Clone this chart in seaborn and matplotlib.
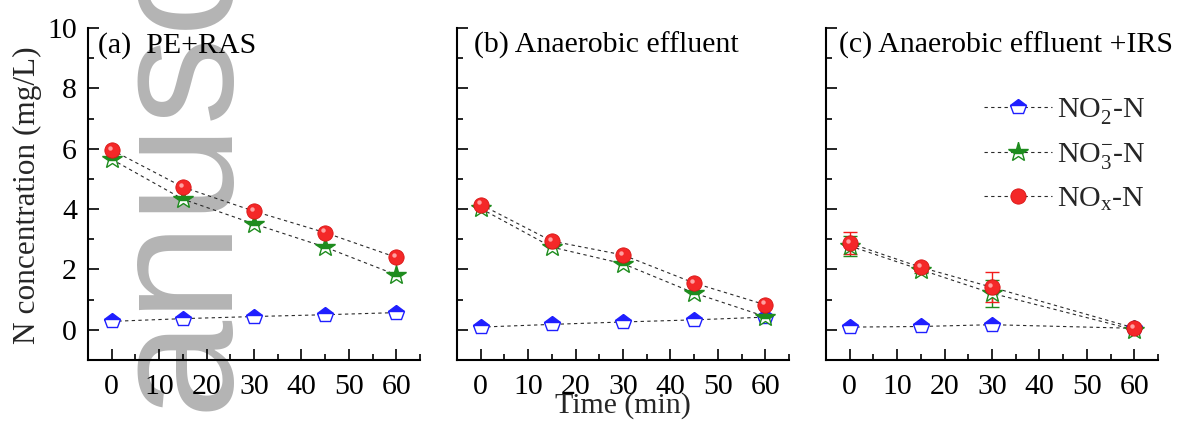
import numpy as np
import pandas as pd
import matplotlib
matplotlib.use("Agg")
import matplotlib.pyplot as plt
from matplotlib.ticker import MultipleLocator
from matplotlib.lines import Line2D
from matplotlib.transforms import ScaledTranslation
import seaborn as sns

# ---------------- data ----------------
time_ab = [0, 15, 30, 45, 60]
time_c = [0, 15, 30, 60]

a_no2 = [0.28, 0.37, 0.44, 0.50, 0.57]
a_no3 = [5.65, 4.33, 3.51, 2.74, 1.82]
a_nox = [5.96, 4.73, 3.93, 3.22, 2.40]

b_no2 = [0.09, 0.18, 0.26, 0.33, 0.42]
b_no3 = [4.02, 2.74, 2.19, 1.22, 0.44]
b_nox = [4.15, 2.94, 2.48, 1.55, 0.83]

c_no2 = [0.09, 0.11, 0.17, 0.05]
c_no3 = [2.78, 1.99, 1.21, 0.00]
c_nox = [2.87, 2.07, 1.41, 0.06]
c_no3_err = [0.33, 0.10, 0.45, 0.03]
c_nox_err = [0.36, 0.12, 0.50, 0.03]

panel_titles = ["(a)  PE+RAS", "(b) Anaerobic effluent", "(c) Anaerobic effluent +IRS"]
series_labels = [r"NO$_2^{-}$-N", r"NO$_3^{-}$-N", r"NO$_\mathrm{x}$-N"]
x_ticks = [0, 10, 20, 30, 40, 50, 60]
y_ticks = [0, 2, 4, 6, 8, 10]

# ---------------- style ----------------
sns.set_theme(style="ticks")
plt.rcParams["font.family"] = ["Liberation Serif", "DejaVu Serif"]
plt.rcParams["mathtext.fontset"] = "custom"
plt.rcParams["mathtext.rm"] = "Liberation Serif"
plt.rcParams["mathtext.it"] = "Liberation Serif:italic"
plt.rcParams["axes.linewidth"] = 1.5
plt.rcParams["axes.edgecolor"] = "black"
plt.rcParams["xtick.direction"] = "in"
plt.rcParams["ytick.direction"] = "in"

FS = 21.5
line_color = "#2a2a2a"
dash = (3.0, 3.0)

styles = [
    dict(marker="p", markersize=11.5, color="#1f1fff", markeredgecolor="#1f1fff",
         markerfacecolor="#1f1fff", fillstyle="top", markerfacecoloralt="white",
         markeredgewidth=1.0),
    dict(marker="*", markersize=15, color="#1e8c1e", markeredgecolor="#1e8c1e",
         markerfacecolor="#1e8c1e", fillstyle="top", markerfacecoloralt="white",
         markeredgewidth=1.0),
    dict(marker="o", markersize=11, color="#f21c1c", markeredgecolor="#d81414",
         markerfacecolor="#f42828", markeredgewidth=0.6),
]

fig = plt.figure(figsize=(11.8, 4.24), dpi=100)
fig.patch.set_facecolor("white")

# watermark
fig.text(225 / 1180, 1 - 411 / 424, "anuscript", rotation=90, rotation_mode="anchor",
         ha="left", va="baseline", fontsize=127, family="Liberation Sans",
         color="#b4b4b4", zorder=-5)

W, H = 1180, 424
lefts = [88, 457, 826]
title_dx = [10, 17, 13]
aw = 332 / W
ab = 1 - 360 / H
ah = 332 / H

panels = [
    (time_ab, [a_no2, a_no3, a_nox], None),
    (time_ab, [b_no2, b_no3, b_nox], None),
    (time_c, [c_no2, c_no3, c_nox], [None, c_no3_err, c_nox_err]),
]

axes = []
for i, (tx, ys, errs) in enumerate(panels):
    ax = fig.add_axes([lefts[i] / W, ab, aw, ah])
    ax.set_facecolor("none")
    axes.append(ax)
    for y in ys:
        df = pd.DataFrame({"t": tx, "v": y})
        sns.lineplot(data=df, x="t", y="v", ax=ax, color=line_color, lw=0.8,
                     dashes=False, linestyle=(0, dash), sort=False, zorder=2)
    if errs is not None:
        for y, e, st in zip(ys, errs, styles):
            if e is None:
                continue
            ax.errorbar(tx, y, yerr=e, fmt="none", ecolor=st["color"], elinewidth=1.0,
                        capsize=5, capthick=1.0, zorder=3)
    for y, st in zip(ys, styles):
        df = pd.DataFrame({"t": tx, "v": y})
        sns.lineplot(data=df, x="t", y="v", ax=ax, linestyle="none", sort=False,
                     zorder=4, **st)
    hl = ax.transData + ScaledTranslation(-1.5 / 72, 1.7 / 72, fig.dpi_scale_trans)
    ax.plot(tx, ys[2], linestyle="none", marker="o", markersize=3.2,
            markerfacecolor="#ffa0a0", markeredgewidth=0, transform=hl, zorder=5)
    ax.set_xlim(-5, 65)
    ax.set_ylim(-1, 10)
    ax.set_xticks(x_ticks)
    ax.set_yticks(y_ticks)
    ax.xaxis.set_minor_locator(MultipleLocator(5))
    ax.yaxis.set_minor_locator(MultipleLocator(1))
    ax.tick_params(which="major", direction="in", length=8, width=1.2, labelsize=FS,
                   pad=8, colors="black", right=False, top=False)
    ax.tick_params(axis="x", which="major", pad=10)
    ax.tick_params(which="minor", direction="in", length=4.5, width=1.2,
                   colors="black", right=False, top=False)
    ax.set_xlabel("")
    ax.set_ylabel("")
    if i > 0:
        ax.tick_params(axis="y", labelleft=False)
    sns.despine(ax=ax)
    ax.text(title_dx[i] / 332, 0.925, panel_titles[i], transform=ax.transAxes,
            fontsize=FS, ha="left", va="baseline", color="black")

handles = []
for st, lab in zip(styles, series_labels):
    h = Line2D([], [], color=line_color, lw=0.8, linestyle=(0, dash),
               **{k: v for k, v in st.items() if k != "color"})
    handles.append(h)
axes[2].legend(handles, series_labels, loc="upper left", bbox_to_anchor=(0.475, 0.795),
               frameon=False, fontsize=FS, handlelength=2.3, handletextpad=0.15,
               labelspacing=0.5, borderpad=0, borderaxespad=0)

fig.text(623 / W, 1 - 413 / H, "Time (min)", ha="center", va="baseline", fontsize=FS)
fig.text(27 / W, 0.54, "N concentration (mg/L)", rotation=90, ha="center", va="center",
         fontsize=22.5)

fig.savefig("out.png", dpi=100)
